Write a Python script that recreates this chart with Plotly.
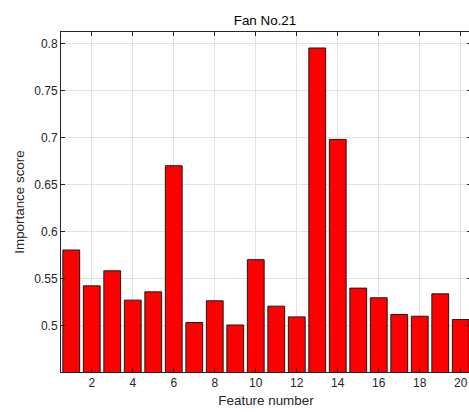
import plotly.graph_objects as go

features = list(range(1, 21))
scores = [0.5807, 0.5426, 0.5586, 0.5274, 0.5362, 0.6703, 0.5036, 0.5267, 0.5010, 0.5704,
          0.5210, 0.5096, 0.7955, 0.6983, 0.5402, 0.5299, 0.5122, 0.5103, 0.5341, 0.5068]
title_text = "Fan No.21"
x_label = "Feature number"
y_label = "Importance score"

font_family = "Liberation Sans, Arial, Helvetica, sans-serif"

fig = go.Figure(go.Bar(
    x=features, y=scores, width=0.82,
    marker=dict(color="#ff0000", line=dict(color="#1a1a1a", width=1)),
))

axis_common = dict(
    showline=True, linecolor="#262626", linewidth=1, mirror="ticks",
    ticks="inside", ticklen=4, tickcolor="#262626", tickwidth=1,
    showgrid=True, gridcolor="#e3e3e3", gridwidth=1, zeroline=False,
    tickfont=dict(family=font_family, size=12, color="#262626"),
)

W, H = 471, 412
fig.update_layout(
    width=W, height=H,
    margin=dict(l=61, r=0, t=32, b=40),
    paper_bgcolor="white", plot_bgcolor="white",
    showlegend=False,
    title=dict(text=title_text, x=265 / W, xanchor="center", y=1 - 20 / H, yanchor="middle",
               font=dict(family=font_family, size=13.4, color="#000000")),
    xaxis=dict(range=[0.5, 20.5], tick0=0, dtick=2,
               title=dict(text=x_label, standoff=6,
                          font=dict(family=font_family, size=13.4, color="#262626")),
               **axis_common),
    yaxis=dict(range=[0.451, 0.8125],
               tickvals=[0.5, 0.55, 0.6, 0.65, 0.7, 0.75, 0.8],
               ticktext=["0.5", "0.55", "0.6", "0.65", "0.7", "0.75", "0.8"],
               title=dict(text=y_label, standoff=6,
                          font=dict(family=font_family, size=13.4, color="#262626")),
               **axis_common),
)

fig.write_html(
    "out.html",
    config={"displayModeBar": False},
    post_script="document.body.style.margin='0';document.body.style.overflow='hidden';",
)
